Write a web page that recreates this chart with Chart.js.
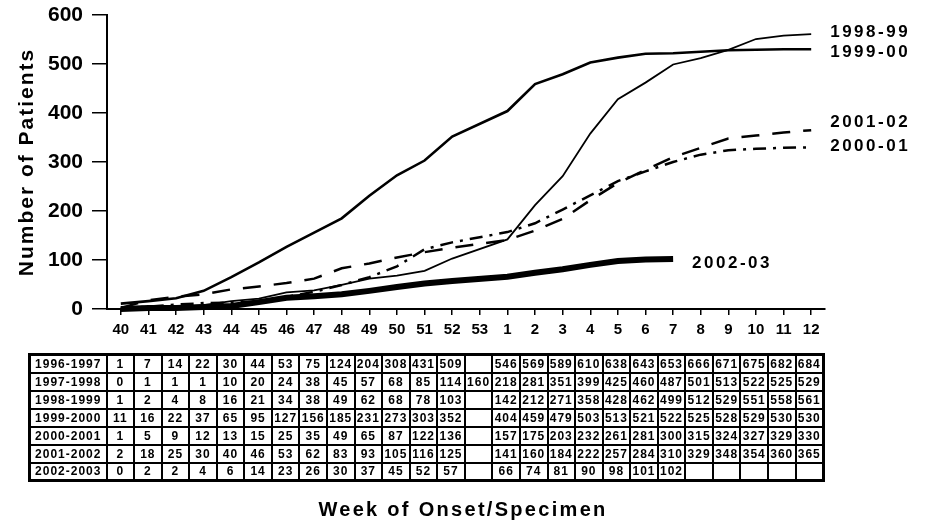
<!DOCTYPE html>
<html>
<head>
<meta charset="utf-8">
<script src="https://cdn.jsdelivr.net/npm/chart.js@4/dist/chart.umd.min.js"></script>
<style>
  body { margin: 0; background: #fff; font-family: "Liberation Sans", Arial, sans-serif; }
  #wrap { position: relative; width: 926px; height: 524px; overflow: hidden; }
  #chart { position: absolute; left: 0; top: 0; }
  #weeks {
    position: absolute; left: 28px; top: 353px; width: 797px;
    border-collapse: collapse; table-layout: fixed; border: 3px solid #000;
  }
  #weeks tr { height: 18px; }
  #weeks td {
    border: 2px solid #000; padding: 0; text-align: center;
    font-weight: bold; font-size: 12px; letter-spacing: 1px; line-height: 14px;
    white-space: nowrap; overflow: hidden; color: #000;
  }
  #xtitle {
    position: absolute; left: 0; top: 497px; width: 926px; height: 24px;
    text-align: center; font-weight: bold; font-size: 20px; line-height: 24px;
    letter-spacing: 2.3px; color: #000;
  }
</style>
</head>
<body>
<div id="wrap">
  <canvas id="chart" width="926" height="524"></canvas>
  <table id="weeks"><colgroup id="cols"></colgroup><tbody id="rows"></tbody></table>
  <div id="xtitle">Week of Onset/Specimen</div>
</div>
<script>
// ---- Data ----------------------------------------------------------------

const weeks = ["40", "41", "42", "43", "44", "45", "46", "47", "48", "49", "50", "51", "52", "53",
  "1", "2", "3", "4", "5", "6", "7", "8", "9", "10", "11", "12"];

const yTicks = [0, 100, 200, 300, 400, 500, 600];

const season9697 = [1, 7, 14, 22, 30, 44, 53, 75, 124, 204, 308, 431, 509, null,
  546, 569, 589, 610, 638, 643, 653, 666, 671, 675, 682, 684];
const season9798 = [0, 1, 1, 1, 10, 20, 24, 38, 45, 57, 68, 85, 114, 160,
  218, 281, 351, 399, 425, 460, 487, 501, 513, 522, 525, 529];
const season9899 = [1, 2, 4, 8, 16, 21, 34, 38, 49, 62, 68, 78, 103, null,
  142, 212, 271, 358, 428, 462, 499, 512, 529, 551, 558, 561];
const season9900 = [11, 16, 22, 37, 65, 95, 127, 156, 185, 231, 273, 303, 352, null,
  404, 459, 479, 503, 513, 521, 522, 525, 528, 529, 530, 530];
const season0001 = [1, 5, 9, 12, 13, 15, 25, 35, 49, 65, 87, 122, 136, null,
  157, 175, 203, 232, 261, 281, 300, 315, 324, 327, 329, 330];
const season0102 = [2, 18, 25, 30, 40, 46, 53, 62, 83, 93, 105, 116, 125, null,
  141, 160, 184, 222, 257, 284, 310, 329, 348, 354, 360, 365];
const season0203 = [0, 2, 2, 4, 6, 14, 23, 26, 30, 37, 45, 52, 57, null,
  66, 74, 81, 90, 98, 101, 102, null, null, null, null, null];

const tableNames = ["1996-1997", "1997-1998", "1998-1999", "1999-2000", "2000-2001", "2001-2002", "2002-2003"];
const tableRows = [season9697, season9798, season9899, season9900, season0001, season0102, season0203];

const lineNames = ["1998-99", "1999-00", "2001-02", "2000-01", "2002-03"];
const lineRows = [season9899, season9900, season0102, season0001, season0203];

// ---- Styles --------------------------------------------------------------

const FONT = '"Liberation Sans", Arial, sans-serif';
const lineStyle = {
  "1998-99": { width: 1.8, dash: [] },
  "1999-00": { width: 2.6, dash: [] },
  "2001-02": { width: 2.5, dash: [18, 13] },
  "2000-01": { width: 2.5, dash: [13, 7, 3, 7] },
  "2002-03": { width: 6, dash: [] },
};
// vertical nudge for each end label, px
const labelNudge = { "1998-99": -2, "1999-00": 3, "2001-02": -8, "2000-01": -1, "2002-03": 4 };

// ---- Table ---------------------------------------------------------------

const cols = document.getElementById("cols");
cols.innerHTML = '<col style="width:77px">' + weeks.map(() => "<col>").join("");
document.getElementById("rows").innerHTML = tableRows
  .map((row, i) =>
    `<tr><td>${tableNames[i]}</td>` +
    row.map((v) => `<td>${v === null ? "" : v}</td>`).join("") + "</tr>")
  .join("");

// ---- Chart ---------------------------------------------------------------

const endLabels = {
  id: "endLabels",
  afterDatasetsDraw(chart) {
    const { ctx, chartArea, scales } = chart;
    ctx.save();
    ctx.fillStyle = "#000";
    ctx.letterSpacing = "2.5px";
    ctx.font = `bold 17px ${FONT}`;
    ctx.textAlign = "left";
    ctx.textBaseline = "middle";
    lineNames.forEach((name, i) => {
      const data = lineRows[i];
      let last = data.length - 1;
      while (data[last] === null) last--;
      const x = scales.x.getPixelForValue(last) + 19;
      const y = scales.y.getPixelForValue(data[last]) + labelNudge[name];
      ctx.fillText(name, x, y);
    });

    // y axis title, drawn here so it can be letter-spaced like the original
    ctx.letterSpacing = "2px";
    ctx.font = `bold 21px ${FONT}`;
    ctx.textAlign = "center";
    ctx.translate(27, (chartArea.top + chartArea.bottom) / 2);
    ctx.rotate(-Math.PI / 2);
    ctx.fillText("Number of Patients", 0, 0);
    ctx.restore();
  },
};

new Chart(document.getElementById("chart"), {
  type: "line",
  data: {
    labels: weeks,
    datasets: lineNames.map((name, i) => ({
      label: name,
      data: lineRows[i],
      borderColor: "#000",
      backgroundColor: "#000",
      borderWidth: lineStyle[name].width,
      borderDash: lineStyle[name].dash,
      pointRadius: 0,
      tension: 0,
      spanGaps: true,
      clip: false,
    })),
  },
  options: {
    responsive: false,
    animation: false,
    layout: { padding: { top: 15, right: 101, bottom: 180, left: 0 } },
    plugins: { legend: { display: false }, tooltip: { enabled: false } },
    scales: {
      x: {
        offset: true,
        border: { color: "#000", width: 2 },
        grid: { drawOnChartArea: false, offset: false, color: "#000", lineWidth: 1.5, tickLength: 6 },
        ticks: { color: "#000", font: { family: FONT, size: 15, weight: "bold" }, padding: 6, maxRotation: 0, autoSkip: false },
        afterFit(scale) { scale.height = 35; },
      },
      y: {
        min: yTicks[0],
        max: yTicks[yTicks.length - 1],
        border: { color: "#000", width: 2 },
        grid: { drawOnChartArea: false, color: "#000", lineWidth: 1.5, tickLength: 15 },
        ticks: { stepSize: 100, color: "#000", font: { family: FONT, size: 21, weight: "bold" }, padding: 9 },
        afterFit(scale) {
          scale.width = 107;
          scale.paddingTop = 0;
          scale.paddingBottom = 0;
        },
      },
    },
  },
  plugins: [endLabels],
});
</script>
</body>
</html>
